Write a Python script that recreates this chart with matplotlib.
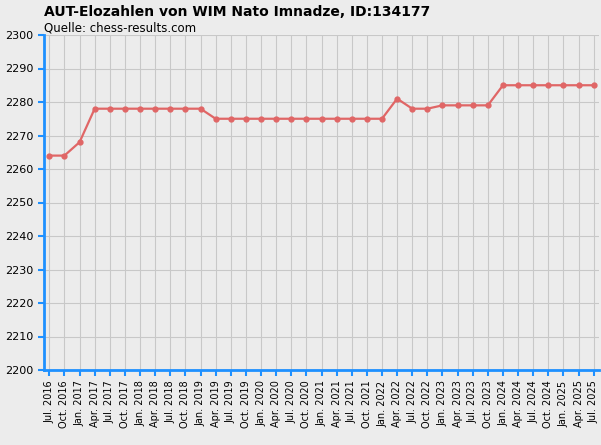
import matplotlib
matplotlib.use("Agg")
import matplotlib.pyplot as plt

labels = []
for y in range(2016, 2026):
    for m in ["Jan.", "Apr.", "Jul.", "Oct."]:
        labels.append(f"{m} {y}")
labels = labels[2:2 + 37]
values = [2264, 2264, 2268] + [2278] * 8 + [2275] * 12 + [2281, 2278, 2278, 2279, 2279, 2279, 2279] + [2285] * 7

fig = plt.figure(figsize=(6.01, 4.45), dpi=100)
fig.patch.set_facecolor("#ececec")
ax = fig.add_axes([44 / 601, 1 - 370 / 445, (599 - 44) / 601, (370 - 35) / 445])
ax.set_facecolor("#ececec")
x = list(range(len(values)))
ax.plot(x, values, color="#e06666", lw=1.6, marker="o", ms=3.5, zorder=3)
ax.set_xlim(-0.35, len(values) - 1 + 0.35)
ax.set_ylim(2200, 2300)
ax.set_yticks(range(2200, 2301, 10))
ax.set_xticks(x)
ax.set_xticklabels(labels, rotation=90, fontsize=7)
ax.tick_params(axis="y", labelsize=8, colors="black")
ax.tick_params(axis="both", color="#1e90ff", length=4, width=1.5)
ax.grid(True, color="#c8c8c8", lw=0.8)
for s in ["top", "right"]:
    ax.spines[s].set_visible(False)
for s in ["left", "bottom"]:
    ax.spines[s].set_color("#1e90ff")
    ax.spines[s].set_linewidth(2)
fig.text(44 / 601, 1 - 12 / 445, "AUT-Elozahlen von WIM Nato Imnadze, ID:134177", fontsize=10, fontweight="bold", va="center")
fig.text(44 / 601, 1 - 28 / 445, "Quelle: chess-results.com", fontsize=8.5, va="center")
fig.savefig("out.png", dpi=100, facecolor=fig.get_facecolor())
